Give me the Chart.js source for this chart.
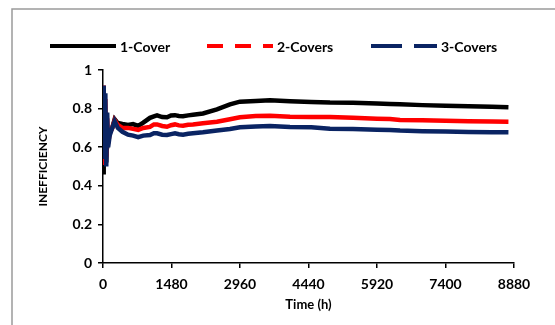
<!DOCTYPE html>
<html>
<head>
<meta charset="utf-8">
<script src="https://cdn.jsdelivr.net/npm/chart.js@4/dist/chart.umd.min.js"></script>
<style>
  html, body { margin: 0; padding: 0; background: #fff; }
  #wrap { width: 555px; height: 325px; position: relative; }
</style>
</head>
<body>
<div id="wrap"><canvas id="chart" width="555" height="325"></canvas></div>
<script>
// hourly simulation, sampled
const hours = [0, 15, 30, 50, 70, 90, 110, 144, 200, 252, 320, 420, 540, 650, 760, 870,
  1015, 1100, 1167, 1280, 1383, 1470, 1555, 1640, 1728, 1840, 1944, 2160, 2462, 2743,
  2959, 3300, 3607, 4040, 4500, 4904, 5400, 5920, 6201, 6417, 6900, 7400, 7900, 8400, 8760]

const oneCover = [0.47, 0.62, 0.55, 0.78, 0.52, 0.70, 0.63, 0.68, 0.70, 0.745, 0.725, 0.72,
  0.715, 0.72, 0.71, 0.727, 0.752, 0.76, 0.765, 0.756, 0.755, 0.764, 0.766, 0.762, 0.76,
  0.765, 0.768, 0.775, 0.796, 0.822, 0.836, 0.84, 0.843, 0.838, 0.834, 0.831, 0.83, 0.826,
  0.824, 0.822, 0.818, 0.815, 0.812, 0.81, 0.807]

const twoCovers = [0.52, 0.92, 0.60, 0.85, 0.55, 0.75, 0.62, 0.67, 0.70, 0.74, 0.715, 0.70,
  0.70, 0.695, 0.69, 0.70, 0.705, 0.718, 0.718, 0.71, 0.706, 0.714, 0.718, 0.713, 0.711,
  0.716, 0.718, 0.724, 0.732, 0.745, 0.755, 0.762, 0.763, 0.758, 0.757, 0.756, 0.752,
  0.748, 0.746, 0.741, 0.739, 0.737, 0.735, 0.733, 0.732]

const threeCovers = [0.55, 0.92, 0.58, 0.88, 0.50, 0.78, 0.60, 0.66, 0.70, 0.735, 0.70, 0.68,
  0.665, 0.66, 0.652, 0.66, 0.663, 0.672, 0.672, 0.665, 0.663, 0.668, 0.672, 0.667, 0.665,
  0.67, 0.672, 0.677, 0.686, 0.694, 0.703, 0.707, 0.71, 0.705, 0.703, 0.696, 0.694,
  0.691, 0.689, 0.686, 0.683, 0.681, 0.679, 0.678, 0.677]

const seriesNames = ['1-Cover', '2-Covers', '3-Covers']
const seriesColors = ['#000000', '#ff0000', '#0a2463']
const legendDashes = [[], [16, 12], [31, 12]]

const FONT = 'Lato, "Open Sans", sans-serif'

function toPoints(values) {
  return values.map((v, i) => ({ x: hours[i], y: v }))
}

const frame = {
  id: 'frame',
  beforeDraw(chart) {
    const { ctx, width, height } = chart
    ctx.save()
    ctx.strokeStyle = '#9a9a9a'
    ctx.lineWidth = 1.5
    ctx.beginPath()
    ctx.moveTo(12, height)
    ctx.lineTo(12, 9)
    ctx.lineTo(width, 9)
    ctx.stroke()
    ctx.restore()
  }
}

// legend drawn by hand so the sample lines can carry dashes
const legendRow = {
  id: 'legendRow',
  afterDraw(chart) {
    const { ctx } = chart
    const starts = [50, 207, 371]
    const y = 46
    ctx.save()
    ctx.font = 'bold 14px ' + FONT
    ctx.textBaseline = 'middle'
    seriesNames.forEach((name, i) => {
      ctx.beginPath()
      ctx.setLineDash(legendDashes[i])
      ctx.strokeStyle = seriesColors[i]
      ctx.lineWidth = 4
      ctx.lineCap = 'butt'
      ctx.moveTo(starts[i], y)
      ctx.lineTo(starts[i] + 66, y)
      ctx.stroke()
      ctx.setLineDash([])
      ctx.fillStyle = '#000'
      ctx.fillText(name, starts[i] + 70, y + 1)
    })
    ctx.restore()
  }
}

new Chart(document.getElementById('chart'), {
  type: 'line',
  data: {
    datasets: [oneCover, twoCovers, threeCovers].map((vals, i) => ({
      label: seriesNames[i],
      data: toPoints(vals),
      borderColor: seriesColors[i],
      backgroundColor: seriesColors[i],
      borderWidth: 4.5,
      pointRadius: 0,
      tension: 0,
      fill: false
    })).reverse()
  },
  options: {
    responsive: false,
    animation: false,
    layout: { padding: { left: 33, top: 70, right: 41, bottom: 9 } },
    plugins: {
      legend: { display: false },
      tooltip: { enabled: false }
    },
    scales: {
      x: {
        type: 'linear',
        min: 0,
        max: 8880,
        afterFit(scale) { scale.height = 53 },
        border: { color: '#000', width: 1.5 },
        grid: { drawOnChartArea: false, color: '#000', tickLength: 5, lineWidth: 1.5 },
        ticks: {
          stepSize: 1480,
          color: '#000',
          padding: 8,
          maxRotation: 0,
          font: { family: FONT, size: 14, weight: 'bold' },
          callback: v => String(v)
        },
        title: {
          display: true,
          text: 'Time (h)',
          color: '#000',
          padding: { top: 2, bottom: 3 },
          font: { family: FONT, size: 13, weight: 'bold' }
        }
      },
      y: {
        min: 0,
        max: 1,
        afterFit(scale) { scale.width = 70 },
        border: { color: '#000', width: 1.5 },
        grid: { drawOnChartArea: false, color: '#000', tickLength: 5, lineWidth: 1.5 },
        ticks: {
          stepSize: 0.2,
          color: '#000',
          padding: 6,
          font: { family: FONT, size: 14, weight: 'bold' },
          callback: v => String(Math.round(v * 10) / 10)
        },
        title: {
          display: true,
          text: 'INEFFICIENCY',
          color: '#000',
          padding: { top: 3, bottom: 4 },
          font: { family: FONT, size: 12, weight: 'bold' }
        }
      }
    }
  },
  plugins: [frame, legendRow]
})
</script>
</body>
</html>
